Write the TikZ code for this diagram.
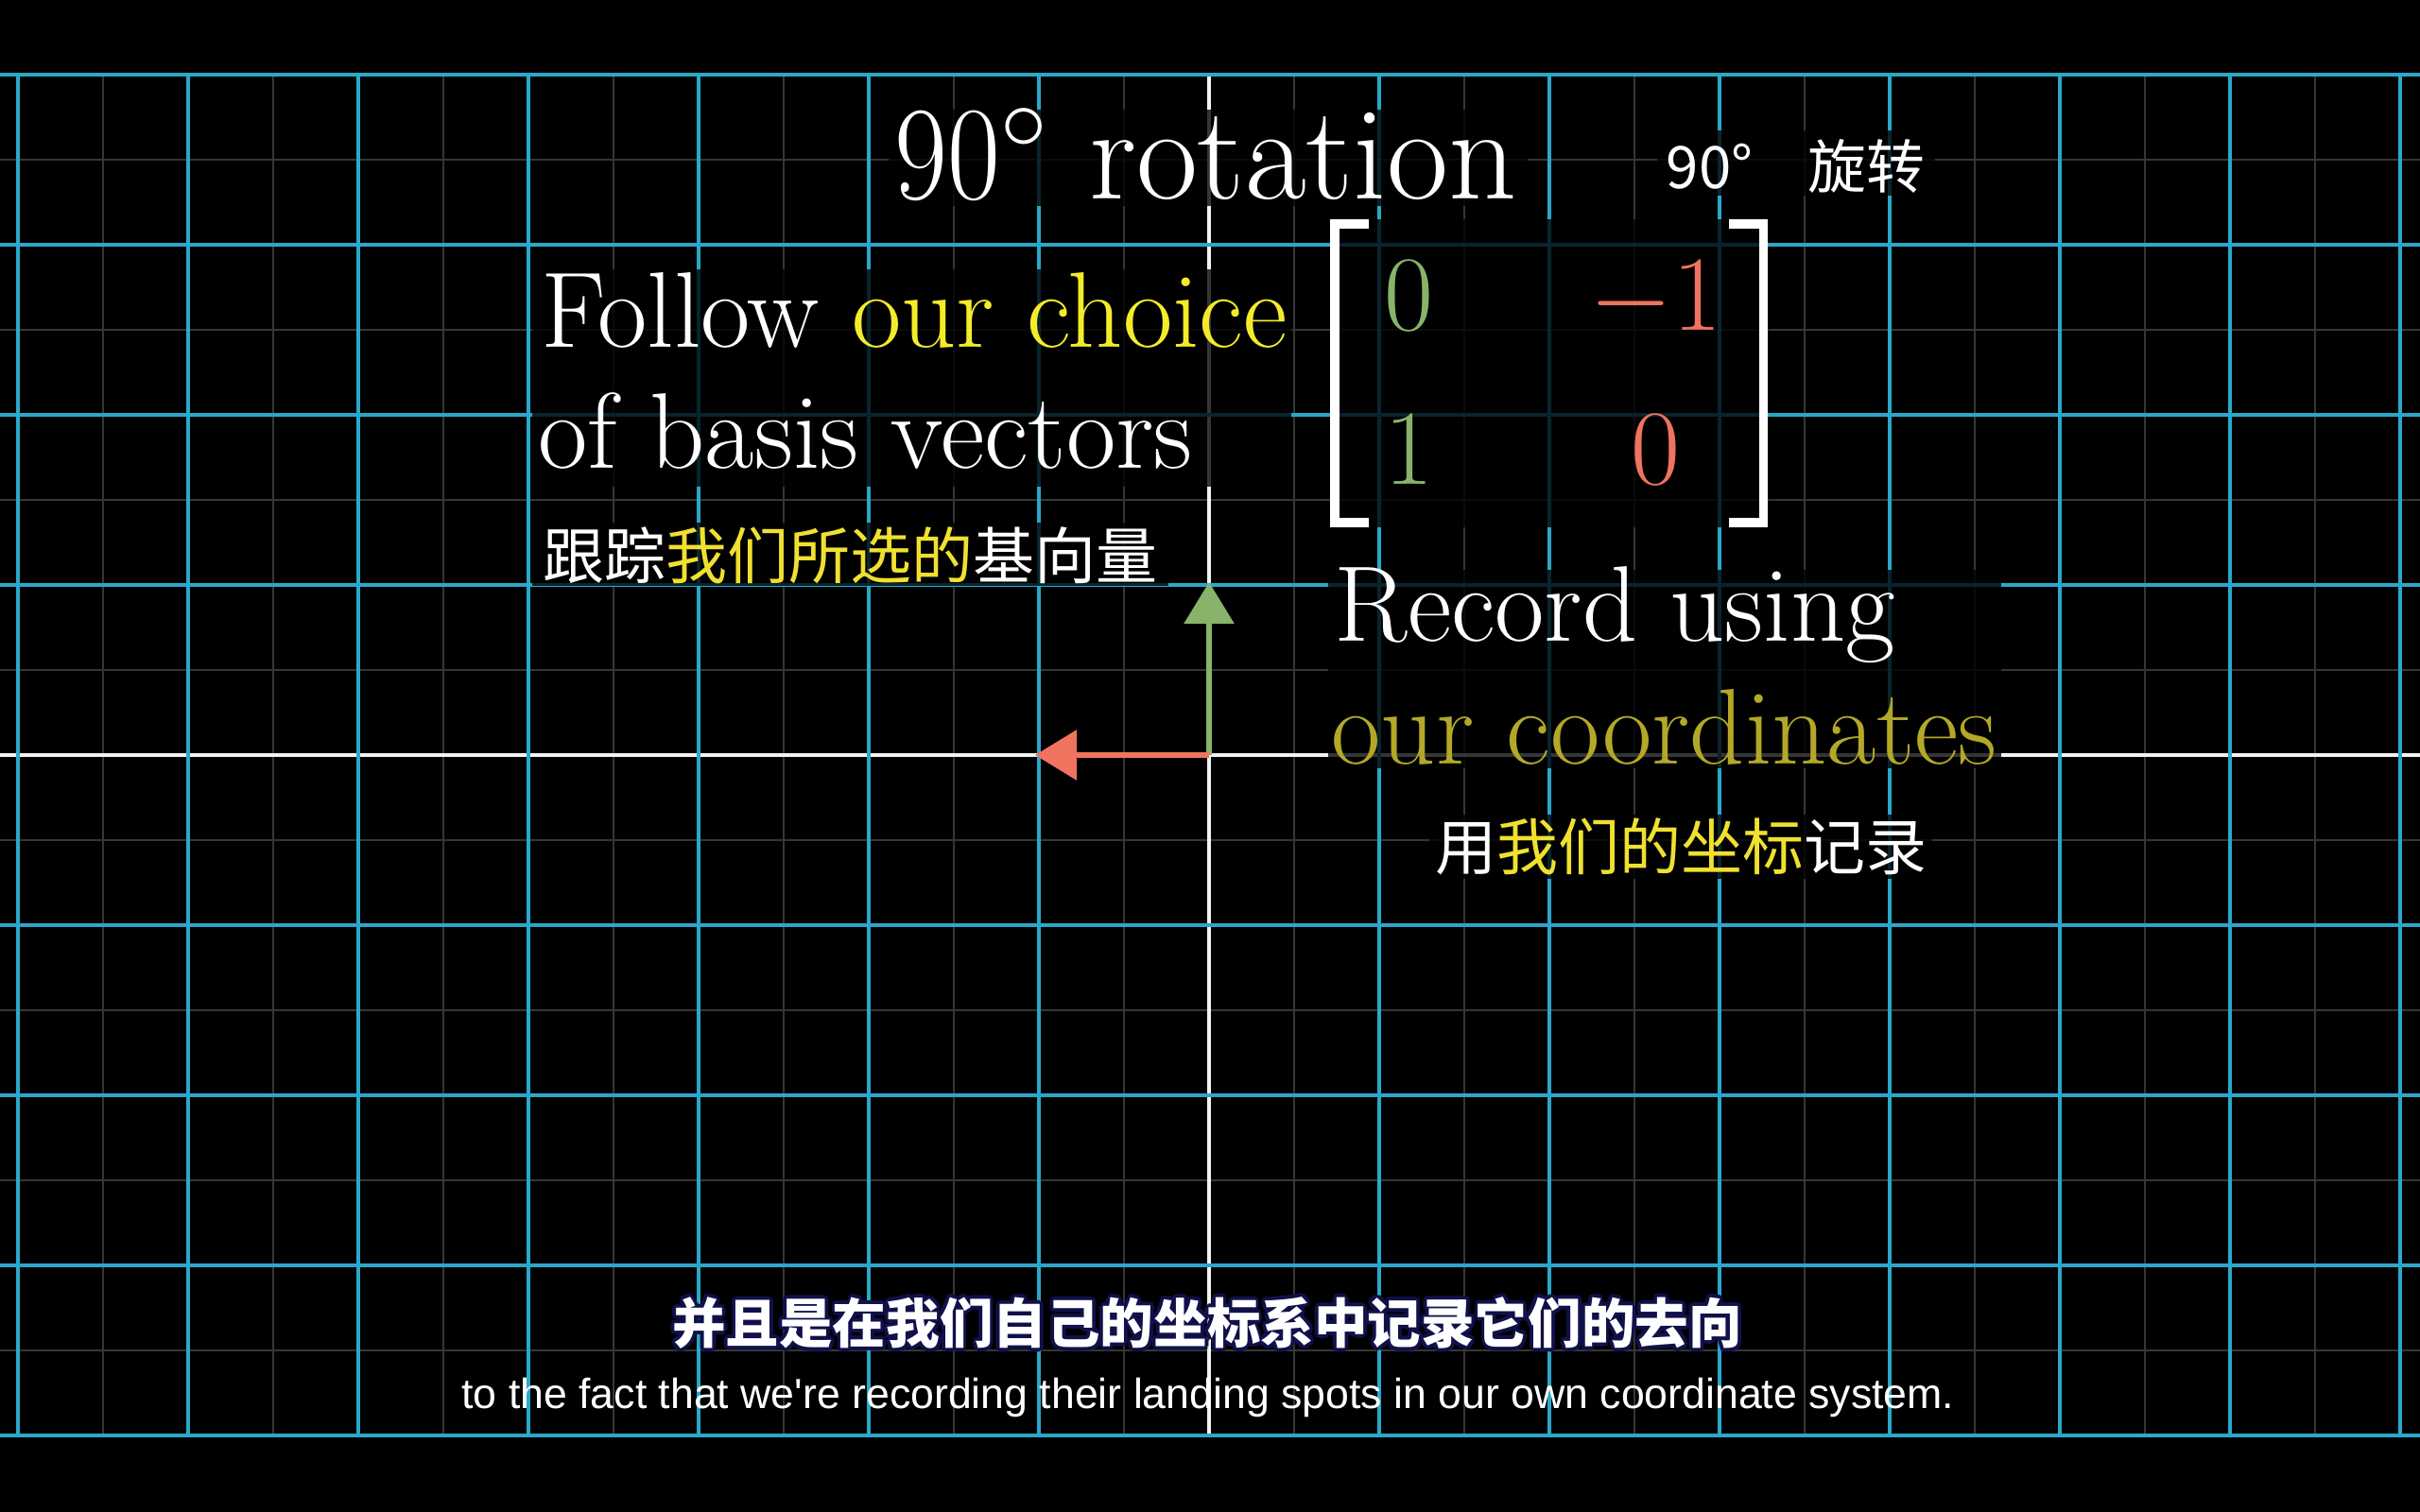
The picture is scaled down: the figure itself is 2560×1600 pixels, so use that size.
\documentclass[tikz,border=0pt]{standalone}
\usepackage{fix-cm}
\usepackage{fontspec}
\newfontfamily\cjk{Noto Sans CJK SC}
\newfontfamily\subfont{Liberation Sans}
\usetikzlibrary{arrows.meta}
\definecolor{gridblue}{HTML}{2AA8CA}
\definecolor{minorgrey}{HTML}{363636}
\definecolor{axiswhite}{HTML}{F2F2F2}
\definecolor{ylw}{HTML}{F4EC2A}
\definecolor{cnylw}{HTML}{F0E030}
\definecolor{dimylw}{HTML}{B3A828}
\definecolor{vgreen}{HTML}{88B36A}
\definecolor{vred}{HTML}{F0735F}
\definecolor{subnavy}{HTML}{10104A}
\newcommand\glowcopy[3]{\rlap{\kern#1\raisebox{#2}{\textcolor{subnavy}{#3}}}}
\newcommand\glowtext[1]{\glowcopy{1.1pt}{0pt}{#1}\glowcopy{-1.1pt}{0pt}{#1}\glowcopy{0pt}{1.1pt}{#1}\glowcopy{0pt}{-1.1pt}{#1}\glowcopy{.8pt}{.8pt}{#1}\glowcopy{-.8pt}{.8pt}{#1}\glowcopy{.8pt}{-.8pt}{#1}\glowcopy{-.8pt}{-.8pt}{#1}#1}
\tikzset{
  minorline/.style={minorgrey, line width=0.25mm},
  majorline/.style={gridblue, line width=0.45mm},
  axisline/.style={axiswhite, line width=0.4mm},
  bgbox/.style={fill=black, fill opacity=0.78},
  txt/.style={text=white, inner sep=0pt, anchor=base west},
  rotfont/.style={font=\fontsize{40.2}{43}\selectfont},
  bodyfont/.style={font=\fontsize{32.4}{36}\selectfont},
  matfont/.style={font=\fontsize{32.2}{36}\selectfont, inner sep=0pt, anchor=base},
  cjklabel/.style={font=\cjk\fontsize{18.5}{20}\selectfont, text=white, inner sep=0pt, anchor=west},
  cjksmall/.style={font=\cjk\fontsize{17.6}{20}\selectfont, text=white, inner sep=0pt, anchor=west},
  subcn/.style={font=\cjk\bfseries\fontsize{16.1}{18}\selectfont, text=white, inner sep=0pt, anchor=center},
  suben/.style={font=\subfont\fontsize{12.7}{14}\selectfont, text=white, inner sep=0pt, anchor=base},
  vecarrow/.style={line width=0.6mm, -{Triangle[length=4.4mm, width=5.2mm]}},
  bracket/.style={white, line width=0.95mm, line join=miter, line cap=butt},
}
\begin{document}
\begin{tikzpicture}[x=0.1mm, y=-0.1mm]
\useasboundingbox (0,0) rectangle (2560,1600);
\fill[black] (0,0) rectangle (2560,1600);
% minor grid
\foreach \x in {109,289,...,2449} \draw[minorline] (\x,79) -- (\x,1519);
\foreach \y in {169,349,...,1429} \draw[minorline] (0,\y) -- (2560,\y);
% axes
\draw[axisline] (0,799) -- (2560,799);
\draw[axisline] (1279,79) -- (1279,1519);
% major grid
\foreach \x in {19,199,...,1099} \draw[majorline] (\x,79) -- (\x,1519);
\foreach \x in {1459,1639,...,2539} \draw[majorline] (\x,79) -- (\x,1519);
\foreach \y in {79,259,439,619} \draw[majorline] (0,\y) -- (2560,\y);
\foreach \y in {979,1159,1339,1519} \draw[majorline] (0,\y) -- (2560,\y);
% text backgrounds
\fill[bgbox] (940,116) rectangle (1616,218);
\fill[bgbox] (563,285) rectangle (1366,515);
\fill[bgbox] (563,553) rectangle (1236,620);
\fill[bgbox] (1407,232) rectangle (1870,558);
\fill[bgbox] (1405,603) rectangle (2117,813);
\fill[bgbox] (1512,862) rectangle (2044,930);
\fill[bgbox] (1753,138) rectangle (2047,207);
% titles
\node[txt, rotfont] (rot) at (946,210) {\scalebox{0.86}[1]{90}$^\circ$ rotation};
\node[cjksmall] (rotcn) at (1762,176) {90°\hspace{0.95em}旋转};
\node[txt, bodyfont] (follow1) at (572,367) {Follow \textcolor{ylw}{our choice}};
\node[txt, bodyfont] (follow2) at (569,495) {of basis vectors};
\node[cjklabel] (followcn) at (574,588) {跟踪\textcolor{cnylw}{我们所选的}基向量};
\node[txt, bodyfont] (record1) at (1411,678) {Record using};
\node[txt, bodyfont, text=dimylw] (record2) at (1408,808) {our coordinates};
\node[cjklabel] (recordcn) at (1518,896) {用\textcolor{cnylw}{我们的坐标}记录};
% matrix
\draw[bracket] (1448,237) -- (1411.75,237) -- (1411.75,553) -- (1448,553);
\draw[bracket] (1829,237) -- (1865.25,237) -- (1865.25,553) -- (1829,553);
\node[matfont, text=vgreen] (m11) at (1490,349) {$0$};
\node[matfont, text=vred] (m12) at (1751,349) {$-1$};
\node[matfont, text=vgreen] (m21) at (1490,512) {$1$};
\node[matfont, text=vred] (m22) at (1751,512) {$0$};
% basis vectors
\coordinate (O) at (1279,799);
\coordinate (jhat) at (1279,616);
\coordinate (ihat) at (1095,799);
\draw[vecarrow, vgreen] (O) -- (jhat);
\draw[vecarrow, vred] (O) -- (ihat);
% subtitles
\node[subcn] (subcn) at (1277,1400) {\glowtext{并且是在我们自己的坐标系中记录它们的去向}};
\node[suben] (suben) at (1278,1490) {to the fact that we're recording their landing spots in our own coordinate system.};
\end{tikzpicture}
\end{document}
